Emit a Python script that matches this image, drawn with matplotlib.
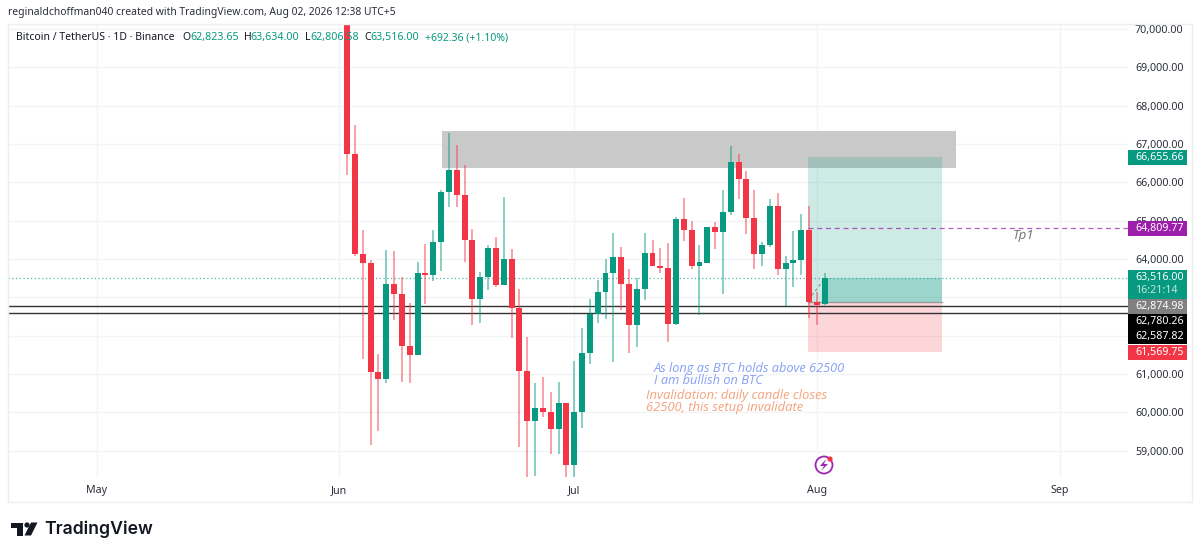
import matplotlib
matplotlib.use("Agg")
import matplotlib.pyplot as plt
import matplotlib.dates as mdates
from matplotlib.patches import Rectangle, Polygon, Circle
from matplotlib.transforms import Affine2D
import pandas as pd

plt.rcParams['font.family'] = ['Noto Sans', 'DejaVu Sans']

start_date = "2026-06-02"
opens = [71500,66748,64130,63887,61060,60878,63339,63087,61739,61504,63635,63574,64443,65748,66322,65661,64496,62948,63539,64287,63313,
         64009,62713,61069,59783,60104,60017,59574,60252,58626,60017,61557,62574,63130,63635,64043,63357,62287,63217,64148,63809,
         63765,62313,65035,64748,63809,63904,64826,64713,65235,66539,66096,65070,64122,64365,65391,63739,63896,63965,64765,62870,62823.65]
closes = [66748,64130,63887,61060,60878,63339,63087,61739,61504,63635,63574,64443,65748,66322,65661,64496,62948,63539,64287,63313,64009,
          62713,61069,59783,60104,60017,59574,60252,58626,60017,61557,62574,63130,63635,64043,63357,62287,63217,64148,63809,63765,
          62313,65035,64748,63809,63922,64826,64713,65235,66539,66096,65070,64122,64365,65391,63739,63896,63965,64765,62870,62809,63516]
highs = [72000,67505,64765,63983,61530,64243,64209,63530,62852,63922,64400,64765,65809,67296,66983,66443,64791,63661,64374,64583,65609,
         64261,63226,61957,60757,60930,60530,60783,60252,61339,62200,62957,63452,63991,64678,64304,63748,63496,64678,64496,64278,
         64426,65087,65583,64991,64365,64840,64957,65791,66948,66739,66287,65791,64452,65557,65713,64087,64730,65174,65391,63148,63634]
lows = [66200,64087,61400,59150,59513,60765,62417,60800,60765,61504,62835,63435,63696,65357,65357,63922,62287,62322,63183,63270,63313,
        61948,59104,58320,58339,59870,58913,58913,58320,58320,59591,61252,62330,62435,61304,62678,61557,61713,62922,63809,63643,
        61826,62278,64478,63748,62539,63904,64270,63096,65139,65557,64661,63748,63809,64304,63591,62774,63278,63591,62470,62278,62806.58]

y_ticks = [59000,60000,61000,62000,63000,64000,65000,66000,67000,68000,69000,70000]
y_hidden_labels = [62000, 63000]  # covered by the price boxes in the reference
month_ticks = ["2026-05-01","2026-06-01","2026-07-01","2026-08-01","2026-09-01"]
month_labels = ["May","Jun","Jul","Aug","Sep"]

zone_top, zone_bottom = 67340, 66380
tp_price, entry_price, sl_price = 66655.66, 62874.98, 61569.75
last_price = 63516.00
tp1_price = 64809.77
level_a, level_b = 62780.26, 62587.82

RED, GREEN = "#f23645", "#089981"
W, H = 1200, 556
AXFS = 7.7
HDFS = 7.45
fig = plt.figure(figsize=(W/100, H/100), dpi=100, facecolor="white")
tr = Affine2D().scale(1, -1).translate(0, H)

# pane: pixel box 8..1128, 24..477
L, R, T, B = 8, 1128, 24, 477
ax = fig.add_axes([L/W, 1-B/H, (R-L)/W, (B-T)/H])
jun1 = mdates.date2num(pd.Timestamp("2026-06-01"))
ppd = 7.83
ax.set_xlim(jun1-(339.3-L)/ppd, jun1+(R-339.3)/ppd)
ppk = 38.33
ax.set_ylim(64000-(B-259)/ppk*1000, 64000+(259-T)/ppk*1000)
for s in ax.spines.values():
    s.set_visible(False)

ax.set_yticks(y_ticks)
ax.set_yticklabels(["" if v in y_hidden_labels else f"{v:,.2f}" for v in y_ticks], fontsize=AXFS, color="#2a2e39")
ax.yaxis.tick_right()
ax.tick_params(axis='y', length=0, pad=5)
ax.set_xticks([mdates.date2num(pd.Timestamp(d)) for d in month_ticks])
ax.set_xticklabels(month_labels, fontsize=AXFS, color="#2a2e39")
ax.tick_params(axis='x', length=0, pad=6)
ax.grid(True, color="#f3f4f6", lw=1)
ax.set_axisbelow(True)

dn = lambda s: mdates.date2num(pd.Timestamp(s))
ax.add_patch(Rectangle((dn("2026-06-14")+0.08, zone_bottom), 65.7, zone_top-zone_bottom,
                       fc="#c9c9c9", ec="none", zorder=1))
pos_l = dn("2026-07-31")-0.13
pos_w = 17.1
ax.add_patch(Rectangle((pos_l, entry_price), pos_w, tp_price-entry_price, fc=GREEN, alpha=0.2, ec="none", zorder=2))
ax.add_patch(Rectangle((pos_l, sl_price), pos_w, entry_price-sl_price, fc=RED, alpha=0.2, ec="none", zorder=2))
x_last = dn("2026-08-02")
ax.add_patch(Rectangle((x_last, entry_price), pos_l+pos_w-x_last, last_price-entry_price, fc=GREEN, alpha=0.25, ec="none", zorder=2))
ax.plot([pos_l, pos_l+pos_w], [entry_price]*2, color="#9a9a9a", lw=1, zorder=2.2)
ax.plot([pos_l+0.5, x_last], [63050, last_price-20], color="#9a9a9a", lw=1, ls=(0, (2, 2)), zorder=2.2)

ax.axhline(last_price, color=GREEN, lw=0.9, ls=(0, (1, 2)), alpha=0.7, zorder=2.5)
ax.axhline(level_a, color="#333333", lw=1, zorder=2.5)
ax.axhline(level_b, color="#333333", lw=1, zorder=2.5)
ax.plot([pos_l, ax.get_xlim()[1]], [tp1_price]*2, color="#9c27b0", lw=0.9, ls=(0, (4, 3)), alpha=0.75, zorder=2.6)

dates = pd.date_range(start_date, periods=len(opens))
xs = [mdates.date2num(d) for d in dates]
for x, o, c, h, l in zip(xs, opens, closes, highs, lows):
    col = GREEN if c >= o else RED
    ax.plot([x, x], [l, h], color=col, lw=1.1, alpha=0.6, zorder=3, solid_capstyle="butt")
    ax.add_patch(Rectangle((x-0.38, min(o, c)), 0.76, max(abs(o-c), 25), fc=col, ec="none", zorder=3.2))

def t(x, y, s, **kw):
    kw.setdefault("va", "center")
    kw.setdefault("ha", "left")
    fig.text(x, y, s, transform=tr, **kw)

# frame
fig.add_artist(Rectangle((L, T), 1192-L, 502-T, transform=tr, fc="none", ec="#eceef2", lw=1, zorder=0.5))

# header
t(8, 12.5, "reginaldchoffman040 created with TradingView.com, Aug 02, 2026 12:38 UTC+5", fontsize=HDFS, color="#2a2e39")
t(16, 37.5, "Bitcoin / TetherUS · 1D · Binance", fontsize=7.5, color="#131722")
for lx, lab, vx, val in [(182.5, "O", 190, "62,823.65"), (244, "H", 250.5, "63,634.00"),
                         (304.5, "L", 310, "62,806.58"), (364, "C", 370.5, "63,516.00")]:
    t(lx, 37.5, lab, fontsize=7.5, color="#131722")
    t(vx, 37.5, val, fontsize=AXFS, color=GREEN)
t(425, 37.5, "+692.36 (+1.10%)", fontsize=7.5, color=GREEN)

# price labels
boxes = [(150, 165.3, GREEN, "66,655.66"), (220.7, 236, "#9c1fab", "64,809.77"),
         (298.7, 314, "#808080", "62,874.98"), (314, 329.3, "#000000", "62,780.26"),
         (329.3, 343.7, "#000000", "62,587.82"), (345, 360.3, RED, "61,569.75")]
for y0, y1, col, s in boxes:
    fig.add_artist(Rectangle((1127.5, y0), 59.5, y1-y0, transform=tr, fc=col, ec="none", zorder=2))
    t(1135, (y0+y1)/2, s, fontsize=AXFS, color="white", zorder=3)
fig.add_artist(Rectangle((1127.5, 270.3), 59.5, 28.4, transform=tr, fc=GREEN, ec="none", zorder=2))
t(1135, 277.5, "63,516.00", fontsize=AXFS, color="white", zorder=3)
t(1135, 290.5, "16:21:14", fontsize=AXFS, color="#c5e8e0", zorder=3)

# annotations
ANN = ['Open Sans', 'DejaVu Sans']
t(654, 368.5, "As long as BTC holds above 62500", fontsize=9.15, style="italic", family=ANN, color="#86a0f5")
t(654, 381, "I am bullish on BTC", fontsize=9.15, style="italic", family=ANN, color="#86a0f5")
t(646, 395, "Invalidation: daily candle closes", fontsize=9.4, style="italic", family=ANN, color="#f4a27c")
t(646, 407.5, "62500, this setup invalidate", fontsize=9.4, style="italic", family=ANN, color="#f4a27c")
t(1013, 236, "Tp1", fontsize=9.5, style="italic", family=ANN, color="#6f6f6f")

# lightning icon
fig.add_artist(Circle((824, 465), 8.5, transform=tr, fc="white", ec="#9c27b0", lw=1.3, zorder=2))
fig.add_artist(Polygon([(826, 459), (820, 466), (824, 466), (821, 471), (828, 464), (824, 464)],
                       transform=tr, fc="#9c27b0", ec="none", zorder=3))
fig.add_artist(Circle((830, 459), 2.6, transform=tr, fc=RED, ec="none", zorder=4))

# logo
fig.add_artist(Polygon([(10.5, 522.5), (23, 522.5), (23, 535.5), (17, 535.5), (17, 528), (10.5, 528)],
                       transform=tr, fc="#131722", ec="none"))
fig.add_artist(Circle((27, 525), 2.6, transform=tr, fc="#131722", ec="none"))
fig.add_artist(Polygon([(31, 522.5), (37.5, 522.5), (31, 535.5), (24.5, 535.5)],
                       transform=tr, fc="#131722", ec="none"))
t(44, 529.5, "TradingView", fontsize=12.7, fontweight="semibold", family=["Inter", "DejaVu Sans"], color="#131722")

fig.savefig("out.png", dpi=100)
